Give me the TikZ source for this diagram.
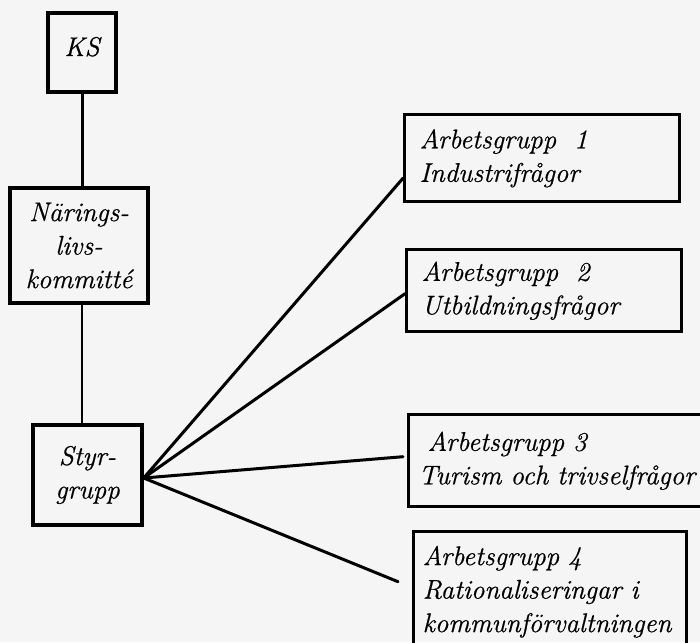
\documentclass[tikz,border=0pt]{standalone}
\usepackage{fontspec}
\setmainfont{Latin Modern Roman}[ItalicFeatures={FakeBold=0.6}]
\begin{document}
\begin{tikzpicture}[x=1pt,y=-1pt,
  box/.style={draw=black, line width=3.4pt, fill=none, inner sep=0pt,
    font=\fontsize{27}{33.5}\selectfont\itshape},
  agbox/.style={box, align=left, inner xsep=15pt, anchor=north west},
  link/.style={draw=black, line width=3pt, line cap=round}]
  \useasboundingbox[fill=white!96!black] (0,0) rectangle (700,642);

  % left column
  \node[box, minimum width=68pt, minimum height=79pt, align=center, text depth=12pt] (ks) at (82,52.5) {KS};
  \node[box, minimum width=138pt, minimum height=115pt, align=center] (nar) at (79,245.5)
    {Närings-\\livs-\\kommitté};
  \node[box, minimum width=109pt, minimum height=100pt, align=center] (styr) at (87.5,475)
    {Styr-\\grupp};

  % working groups
  \node[agbox, text width=245pt, minimum height=87pt] (ag1) at (403,113)
    {Arbetsgrupp\ \ 1\\Industrifrågor};
  \node[agbox, text width=245pt, minimum height=82pt] (ag2) at (405,248)
    {Arbetsgrupp\ \ 2\\Utbildningsfrågor};
  \node[agbox, text width=285pt, minimum height=92pt, inner xsep=10pt] (ag3) at (407,413)
    {\hspace*{9pt}Arbetsgrupp 3\\Turism och trivselfrågor};
  \node[agbox, text width=255pt, minimum height=120pt, inner xsep=9pt] (ag4) at (412,530)
    {Arbetsgrupp 4\\Rationaliseringar i\\kommunförvaltningen};

  % connectors
  \draw[link] (ks.south) -- (ks.south |- nar.north);
  \draw[link, line width=2.2pt] (nar.south -| ks.south) -- (ks.south |- styr.north);

  \coordinate (hub) at ([yshift=-3pt]styr.east);
  \coordinate (e1) at ([yshift=-20pt]ag1.west);
  \coordinate (e2) at ([yshift=-3pt]ag2.west);
  \coordinate (e3) at ([xshift=-4pt, yshift=4pt]ag3.west);
  \coordinate (e4) at ([xshift=-14pt, yshift=10pt]ag4.west);
  \draw[link] (hub) -- (e1);
  \draw[link] (hub) -- (e2);
  \draw[link] (hub) -- (e3);
  \draw[link] (hub) -- (e4);
\end{tikzpicture}
\end{document}
